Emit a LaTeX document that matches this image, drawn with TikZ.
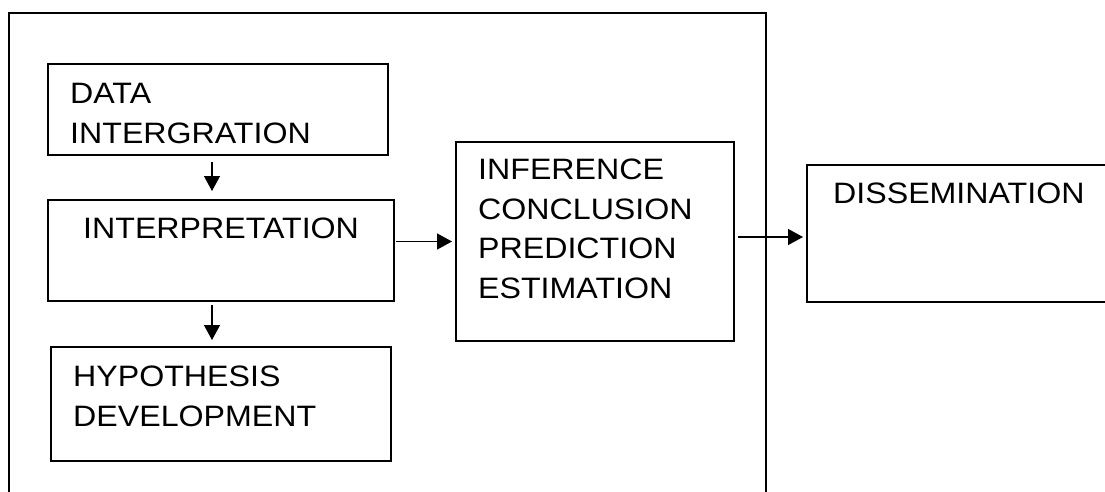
\documentclass[tikz,border=0pt]{standalone}
\usepackage{fontspec}
\setmainfont{Liberation Sans}[FakeStretch=1.09]
\usetikzlibrary{positioning,arrows.meta}

\begin{document}
\begin{tikzpicture}[x=1pt, y=-1pt,
    box/.style={draw, line width=1.3pt, anchor=north west, inner sep=0, outer sep=0},
    txt/.style={inner sep=0, align=left, font=\fontsize{29.5}{39.5}\selectfont},
    arr/.style={->, >={Triangle[length=15pt,width=16pt]}, line width=1.3pt},
    frame/.style={line width=2pt}]
    \useasboundingbox (0,0) rectangle (1105,491);

    % outer frame, open at the bottom
    \draw[frame] (9,500) -- (9,13) -- (766,13) -- (766,500);

    \node[box, minimum width=340pt, minimum height=91pt]  (data)   at (48,64) {};
    \node[box, minimum width=346pt, minimum height=101pt] (interp) at (48,200) {};
    \node[box, minimum width=340pt, minimum height=114pt] (hypo)   at (51,347) {};
    \node[box, minimum width=278pt, minimum height=199pt] (infer)  at (456,142) {};
    \node[box, minimum width=320pt, minimum height=137pt] (dissem) at (807,165) {};

    \node[txt, below right=19pt and 22pt of data.north west]   (datatxt)   {DATA\\INTERGRATION};
    \node[txt, below right=18pt and 35pt of interp.north west] (interptxt) {INTERPRETATION};
    \node[txt, below right=19pt and 22pt of hypo.north west]   (hypotxt)   {HYPOTHESIS\\DEVELOPMENT};
    \node[txt, below right=17pt and 22pt of infer.north west]  (infertxt)  {INFERENCE\\CONCLUSION\\PREDICTION\\ESTIMATION};
    \node[txt, below right=18pt and 26pt of dissem.north west] (dissemtxt) {DISSEMINATION};

    \coordinate (col) at (212,0);
    \coordinate (row) at (0,237);

    \draw[arr, shorten <=7pt, shorten >=9pt] (data.south -| col) -- (interp.north -| col);
    \draw[arr, shorten <=4pt, shorten >=7pt] (interp.south -| col) -- (hypo.north -| col);
    \draw[arr, shorten <=2pt, shorten >=4pt] (interp.east |- infer.west) -- (infer.west);
    \draw[arr, shorten <=4pt, shorten >=4pt] (infer.east |- row) -- (dissem.west |- row);
\end{tikzpicture}
\end{document}
